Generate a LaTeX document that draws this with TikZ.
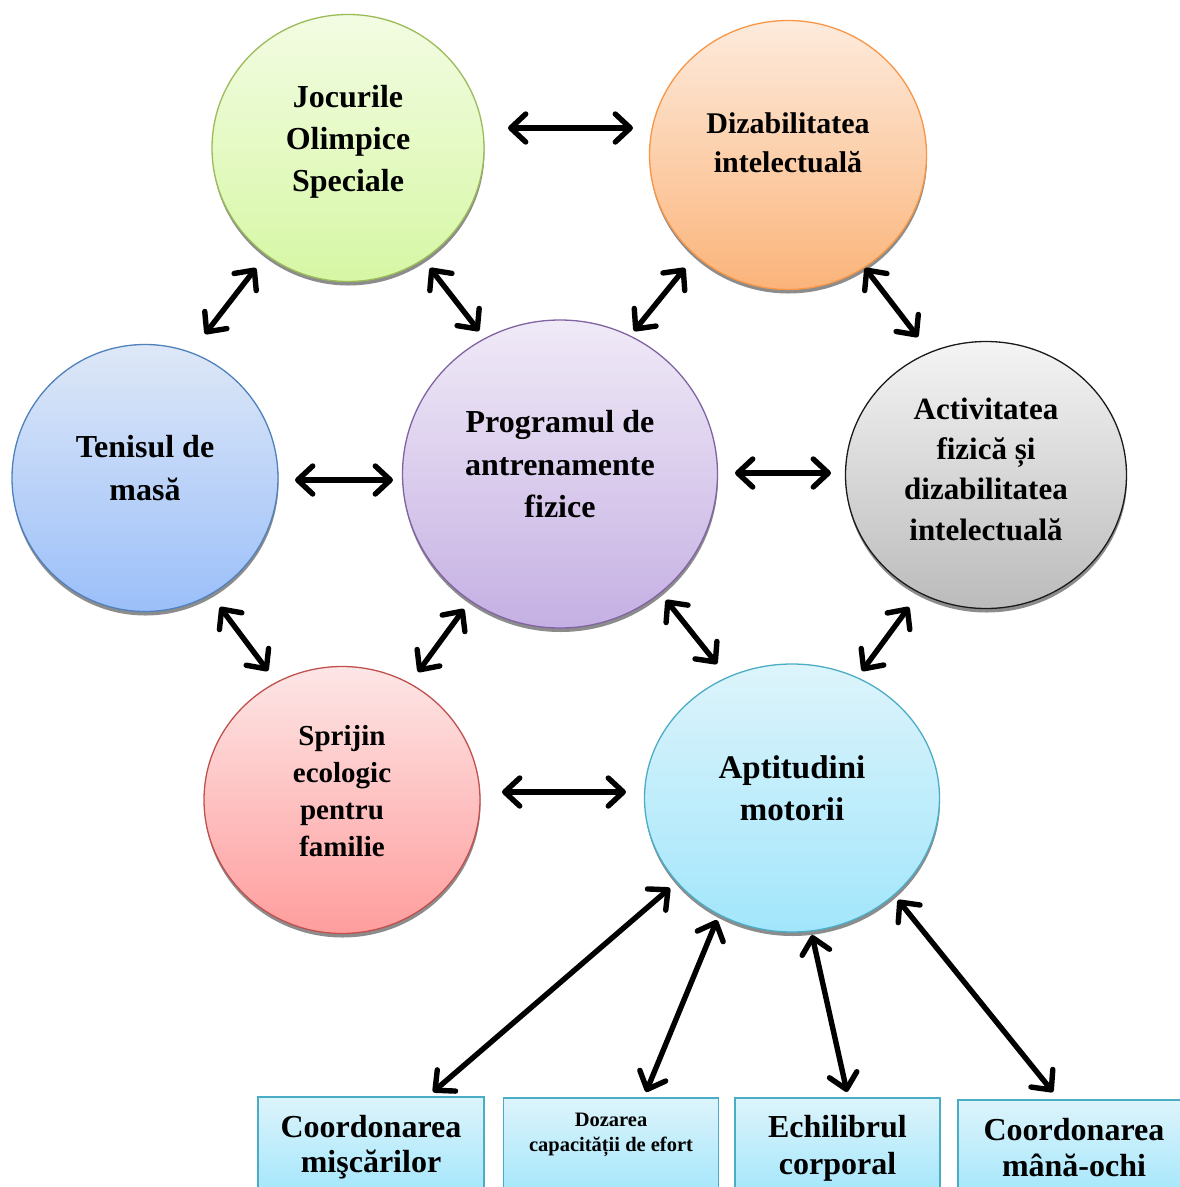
\documentclass[tikz,border=0pt]{standalone}
\usepackage{fontspec}
\setmainfont{Liberation Serif}
\usetikzlibrary{arrows.meta,shapes.geometric,shadows,calc}
\definecolor{gTop}{HTML}{F3FCE3}\definecolor{gBot}{HTML}{D6F7A4}\definecolor{gLine}{HTML}{9BBB59}
\definecolor{oTop}{HTML}{FDEBDD}\definecolor{oBot}{HTML}{FBB47A}\definecolor{oLine}{HTML}{F79646}
\definecolor{bTop}{HTML}{DEE8F7}\definecolor{bBot}{HTML}{9BBFF9}\definecolor{bLine}{HTML}{4F81BD}
\definecolor{pTop}{HTML}{F0EAF7}\definecolor{pBot}{HTML}{C5B0E3}\definecolor{pLine}{HTML}{8064A2}
\definecolor{kTop}{HTML}{F4F4F4}\definecolor{kBot}{HTML}{BBBBBB}\definecolor{kLine}{HTML}{1A1A1A}
\definecolor{rTop}{HTML}{FDE6E6}\definecolor{rBot}{HTML}{FF9D9D}\definecolor{rLine}{HTML}{C0504D}
\definecolor{cTop}{HTML}{DDF4FB}\definecolor{cBot}{HTML}{A2E6FB}\definecolor{cLine}{HTML}{4BACC6}
\begin{document}
\begin{tikzpicture}[x=1pt,y=-1pt,
  bub/.style={ellipse, draw, line width=1.3pt, align=center, inner sep=0pt,
    font=\bfseries\fontsize{32}{42}\selectfont,
    drop shadow={shadow xshift=0.5pt,shadow yshift=-4pt,opacity=0.45,fill=black}},
  box/.style={rectangle, draw=cLine, line width=1.6pt, anchor=north, align=center,
    inner sep=0pt, minimum height=100pt, top color=cTop, bottom color=cBot,
    font=\bfseries\fontsize{32}{36}\selectfont},
  dbl/.style={{Straight Barb[length=15pt,width=28pt,round]}-{Straight Barb[length=15pt,width=28pt,round]},
    line width=5.4pt, line cap=round}
]
\useasboundingbox (0,0) rectangle (1179,1187);

\node[bub, draw=gLine, top color=gTop, bottom color=gBot, minimum width=272pt, minimum height=267pt, text depth=19pt]
  (J) at (348,148) {Jocurile\\Olimpice\\Speciale};
\node[bub, draw=oLine, top color=oTop, bottom color=oBot, minimum width=277pt, minimum height=269pt, text depth=24pt,
  font=\bfseries\fontsize{30}{39}\selectfont]
  (D) at (788,155) {Dizabilitatea\\intelectuală};
\node[bub, draw=bLine, top color=bTop, bottom color=bBot, minimum width=266pt, minimum height=267pt, text depth=20pt,
  font=\bfseries\fontsize{32}{43}\selectfont]
  (T) at (145,478) {Tenisul de\\masă};
\node[bub, draw=pLine, top color=pTop, bottom color=pBot, minimum width=315pt, minimum height=308pt, text depth=20pt,
  font=\bfseries\fontsize{32}{42.5}\selectfont]
  (P) at (560,474) {Programul de\\antrenamente\\fizice};
\node[bub, draw=kLine, top color=kTop, bottom color=kBot, minimum width=281pt, minimum height=267pt, text depth=12pt,
  font=\bfseries\fontsize{31}{40.3}\selectfont]
  (A) at (986,475) {Activitatea\\fizică și\\dizabilitatea\\intelectuală};
\node[bub, draw=rLine, top color=rTop, bottom color=rBot, minimum width=276pt, minimum height=267pt, text depth=18pt,
  font=\bfseries\fontsize{29}{37}\selectfont]
  (S) at (342,800) {Sprijin\\ecologic\\pentru\\familie};
\node[bub, draw=cLine, top color=cTop, bottom color=cBot, minimum width=295pt, minimum height=268pt, text depth=19pt,
  font=\bfseries\fontsize{33}{42}\selectfont]
  (M) at (792,798) {Aptitudini\\motorii};

\node[box, minimum width=226pt, text depth=6pt, font=\bfseries\fontsize{32}{35}\selectfont]
  (B1) at (371,1096) {Coordonarea\\mişcărilor};
\node[box, minimum width=215pt, text depth=31pt, font=\bfseries\fontsize{20.5}{25}\selectfont]
  (B2) at (611,1097) {Dozarea\\capacității de efort};
\node[box, minimum width=205pt, text depth=6pt, font=\bfseries\fontsize{32}{37}\selectfont]
  (B3) at (837.5,1097) {Echilibrul\\corporal};
\node[box, minimum width=232pt, text depth=4pt, font=\bfseries\fontsize{32}{36}\selectfont]
  (B4) at (1074,1099) {Coordonarea\\mână-ochi};

\draw[dbl] ($(J)+(160,-20)$) -- ($(D)+(-155,-27)$);
\draw[dbl] ($(J)+(-92,120)$) -- ($(T)+(60,-144)$);
\draw[dbl] ($(J)+(82,120)$) -- ($(P)+(-81,-143)$);
\draw[dbl] ($(D)+(-103,113)$) -- ($(P)+(74,-143)$);
\draw[dbl] ($(D)+(77,113)$) -- ($(A)+(-68,-138)$);
\draw[dbl] ($(T)+(150,2)$) -- ($(P)+(-167,6)$);
\draw[dbl] ($(P)+(175,-1)$) -- ($(A)+(-155,-2)$);
\draw[dbl] ($(T)+(75,129)$) -- ($(S)+(-74,-129)$);
\draw[dbl] ($(P)+(-96,135)$) -- ($(S)+(76,-128)$);
\draw[dbl] ($(P)+(106,126)$) -- ($(M)+(-75,-134)$);
\draw[dbl] ($(A)+(-77,132)$) -- ($(M)+(70,-127)$);
\draw[dbl] ($(S)+(160,-8)$) -- ($(M)+(-166,-6)$);
\draw[dbl] ($(M)+(-122,90)$) -- ($(B1.north)+(62,-4)$);
\draw[dbl] ($(M)+(-75,122)$) -- ($(B2.north)+(35,-5)$);
\draw[dbl] ($(M)+(20,137)$) -- ($(B3.north)+(9.5,-5)$);
\draw[dbl] ($(M)+(106,102)$) -- ($(B4.north)+(-21,-7)$);
\end{tikzpicture}
\end{document}
